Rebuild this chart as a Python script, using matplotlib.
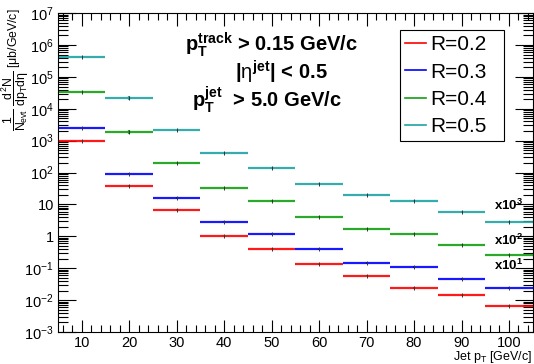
import matplotlib.pyplot as plt
import numpy as np
from matplotlib.ticker import LogLocator, MultipleLocator, FixedLocator, NullFormatter

plt.rcParams['font.family'] = ['Liberation Sans', 'DejaVu Sans']
plt.rcParams['mathtext.fontset'] = 'custom'
plt.rcParams['mathtext.rm'] = 'Liberation Sans'
plt.rcParams['mathtext.it'] = 'Liberation Sans'
plt.rcParams['mathtext.bf'] = 'Liberation Sans:bold'

# bin centres (GeV/c), each bin 10 GeV/c wide
pt = [10, 20, 30, 40, 50, 60, 70, 80, 90, 100]

# spectra, R=0.3/0.4/0.5 already scaled by x10, x10^2, x10^3
r02 = [990, 38, 6.7, 1.04, 0.41, 0.132, 0.058, 0.0245, 0.0141, 0.0067]
r03 = [2500, 92, 15.9, 2.87, 1.16, 0.39, 0.146, 0.109, 0.046, 0.0245]
r04 = [34000, 1900, 194, 32.7, 12.8, 4.1, 1.74, 1.16, 0.55, 0.265]
r05 = [430000, 22000, 2100, 400, 141, 44.6, 19.3, 12.5, 5.8, 2.8]

# relative statistical errors
rel02 = [0.01, 0.04, 0.05, 0.03, 0.04, 0.04, 0.05, 0.06, 0.05, 0.06]
rel03 = [0.01, 0.03, 0.04, 0.03, 0.08, 0.04, 0.05, 0.07, 0.08, 0.06]
rel04 = [0.01, 0.12, 0.04, 0.03, 0.06, 0.04, 0.05, 0.07, 0.06, 0.06]
rel05 = [0.01, 0.15, 0.04, 0.03, 0.06, 0.04, 0.05, 0.07, 0.06, 0.06]

labels = ['R=0.2', 'R=0.3', 'R=0.4', 'R=0.5']
colors = ['#ff0000', '#0000ff', '#13a013', '#20a3a3']
scale_labels = [r'x10$^{\mathbf{3}}$', r'x10$^{\mathbf{2}}$', r'x10$^{\mathbf{1}}$']
scale_y = [6.7, 0.53, 0.088]

fig = plt.figure(figsize=(5.34, 3.64), dpi=100)
ax = fig.add_axes([0.1086, 0.0879, 0.889, 0.876])

for vals, rel, lab, col in zip([r02, r03, r04, r05], [rel02, rel03, rel04, rel05], labels, colors):
    v = np.array(vals)
    ax.errorbar(pt, v, xerr=5, yerr=v * np.array(rel), fmt='none',
                ecolor=col, elinewidth=1.6, capsize=0, alpha=0.9)
    ax.plot(pt, v, ls='none', marker='|', ms=2.5, mew=0.7, color='#333333')

handles = [plt.Line2D([], [], color=c, lw=1.2) for c in colors]

ax.set_yscale('log')
ax.set_xlim(5, 105)
ax.set_ylim(1e-3, 1e7)

ax.xaxis.set_major_locator(FixedLocator(pt))
ax.xaxis.set_minor_locator(MultipleLocator(2))
ax.yaxis.set_major_locator(LogLocator(base=10, numticks=20))
ax.yaxis.set_minor_locator(LogLocator(base=10, subs=np.arange(2, 10), numticks=20))
ax.yaxis.set_minor_formatter(NullFormatter())

ylabs = {1e7: '10$^{7}$', 1e6: '10$^{6}$', 1e5: '10$^{5}$', 1e4: '10$^{4}$',
         1e3: '10$^{3}$', 1e2: '10$^{2}$', 1e1: '10', 1e0: '1',
         1e-1: '10$^{-1}$', 1e-2: '10$^{-2}$', 1e-3: '10$^{-3}$'}
yt = sorted(ylabs)
ax.set_yticks(yt)
ax.set_yticklabels([ylabs[t] for t in yt])

ax.tick_params(which='both', direction='in', top=True, right=True, labelsize=10.5, pad=3,
               width=0.8)
ax.tick_params(axis='y', which='major', length=13)
ax.tick_params(axis='y', which='minor', length=7)
ax.tick_params(axis='x', which='major', length=9)
ax.tick_params(axis='x', which='minor', length=5)

ax.set_xlabel('Jet p$_{T}$ [GeV/c]', loc='right', fontsize=9, labelpad=-1)
ax.set_ylabel(r'$\dfrac{1}{N_{evt}}\ \dfrac{d^{2}N}{dp_{T}d\eta}$ [$\mu$b/GeV/c]',
              loc='top', fontsize=8.8, va='center')
ax.yaxis.set_label_coords(-0.09, 1.015)

ax.text(0.45, 0.90, r'p$_{\mathbf{T}}^{\mathbf{track}}$ > 0.15 GeV/c', transform=ax.transAxes,
        ha='center', va='center', fontsize=14.5, fontweight='bold')
ax.text(0.47, 0.815, r'|$\eta^{\mathbf{jet}}$| < 0.5', transform=ax.transAxes,
        ha='center', va='center', fontsize=14.5, fontweight='bold')
ax.text(0.44, 0.73, r'p$_{\mathbf{T}}^{\mathbf{jet}}$  > 5.0 GeV/c', transform=ax.transAxes,
        ha='center', va='center', fontsize=14.5, fontweight='bold')

for s, yv in zip(scale_labels, scale_y):
    ax.text(96.8, yv, s, ha='left', va='baseline', fontsize=9.5, fontweight='bold')

leg = ax.legend(handles, labels, loc='upper left', bbox_to_anchor=(0.72, 0.627, 0.219, 0.32),
                mode='expand', fontsize=15, frameon=True, fancybox=False, edgecolor='black',
                handlelength=1.0, handletextpad=0.2, borderpad=0.25,
                labelspacing=0.4, borderaxespad=0, framealpha=1)
leg.get_frame().set_linewidth(0.8)

fig.savefig('out.png', dpi=100)
